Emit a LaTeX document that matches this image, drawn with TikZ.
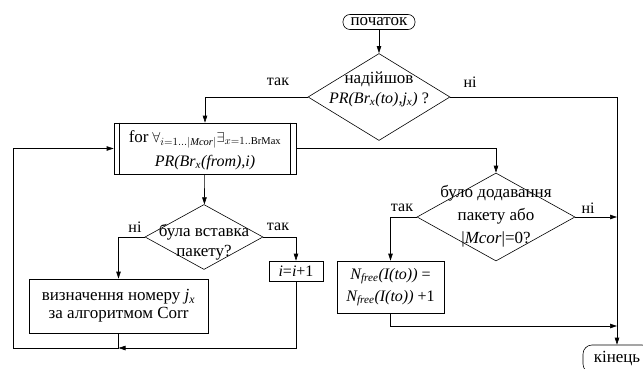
\documentclass[tikz,border=0pt]{standalone}
\usepackage{fontspec}
\setmainfont{Liberation Serif}
\usetikzlibrary{shapes.geometric,arrows.meta}

\begin{document}
\begin{tikzpicture}[x=1pt,y=-1pt,font=\fontsize{17}{20}\selectfont,line width=0.6pt]
    \tikzstyle{every node}=[align=center,inner sep=1pt]
    \tikzstyle{box}=[draw,rectangle]
    \tikzstyle{term}=[draw,rounded corners=7pt]
    \tikzstyle{cond}=[draw,diamond,inner sep=0pt]
    \tikzstyle{lab}=[font=\fontsize{16}{17}\selectfont]
    \tikzstyle{it}=[font=\fontsize{16}{20}\selectfont]
    \tikzstyle{arr}=[-{Triangle[length=7pt,width=4.5pt]}]
    \useasboundingbox (0,0) rectangle (643,369);
    % start and first check
    \node[term, minimum width=72pt, minimum height=15pt] (start) at (379,22) {початок};
    \node[cond, minimum width=142pt, minimum height=87pt] (q1) at (379,97) {};
    \node at (379,89) {надійшов\\{\fontsize{16}{20}\selectfont\textit{PR(Br\textsubscript{x}(to),j\textsubscript{x})} ?}};
    % loop head
    \node[box, minimum width=182pt, minimum height=51pt] (loop) at (205,148.5) {};
    \node[font=\fontsize{15}{24}\selectfont] at (205,150) {{\fontsize{17}{20}\selectfont for} $\forall_{i=1\ldots|\mathit{Mcor}|}\exists_{x=1..\mathrm{BrMax}}$\\{\fontsize{16}{20}\selectfont\textit{PR(Br\textsubscript{x}(from),i)}}};
    \draw ([xshift=6pt]loop.north west) -- ([xshift=6pt]loop.south west);
    \draw ([xshift=-6pt]loop.north east) -- ([xshift=-6pt]loop.south east);
    % insertion check
    \node[cond, minimum width=118pt, minimum height=65pt] (q2) at (204,237) {};
    \node at (204,242) {була вставка\\пакету?};
    \node[box, font=\fontsize{17}{18}\selectfont, minimum width=179pt, minimum height=54pt] (corr) at (118.5,306) {визначення номеру \textit{j\textsubscript{x}}\\за алгоритмом Corr};
    \node[box, it, minimum width=54pt, minimum height=20pt] (inc) at (296,271) {\textit{i}=\textit{i}+1};
    % adding check
    \node[cond, minimum width=158pt, minimum height=88pt] (q3) at (496,217) {};
    \node[font=\fontsize{17}{23}\selectfont] at (496,216) {було додавання\\пакету або\\|\textit{Mcor}|=0?};
    \node[box, font=\fontsize{16}{22}\selectfont, minimum width=107pt, minimum height=52pt] (nfree) at (390.5,287) {\textit{N\textsubscript{free}(I(to))} =\\\textit{N\textsubscript{free}(I(to))} +1};
    \node[term, minimum width=68pt, minimum height=28pt, rounded corners=9pt] (stop) at (617,359) {кінець};
    \coordinate (m1) at (118.5,348);
    \coordinate (m2) at (617,326);
    \coordinate (m3) at (617,217);
    % connectors
    \draw[arr] (start) -- (q1);
    \draw[arr] (q1.west) -| (loop.north);
    \draw (q1.east) -| (m3);
    \draw[arr] (m3) -- (stop.north);
    \draw[arr] (loop.east) -| (q3.north);
    \draw[arr] (loop) -- (q2);
    \draw[arr] (q2.west) -| (corr.north);
    \draw[arr] (q2.east) -| (inc.north);
    \draw[arr] (inc.south) |- (m1);
    \draw (corr.south) -- (m1) -- (13,348) |- (13,148.5) coordinate (m4);
    \draw[arr] (m4) -- (loop.west);
    \draw[arr] (q3.east) -- (m3);
    \draw[arr] (q3.west) -| (nfree.north);
    \draw[arr] (nfree.south) |- (m2);
    % labels
    \node[lab] at (278,82) {так};
    \node[lab] at (470,82) {ні};
    \node[lab] at (135,227) {ні};
    \node[lab] at (278,227) {так};
    \node[lab] at (402,208) {так};
    \node[lab] at (588,208) {ні};
\end{tikzpicture}
\end{document}
